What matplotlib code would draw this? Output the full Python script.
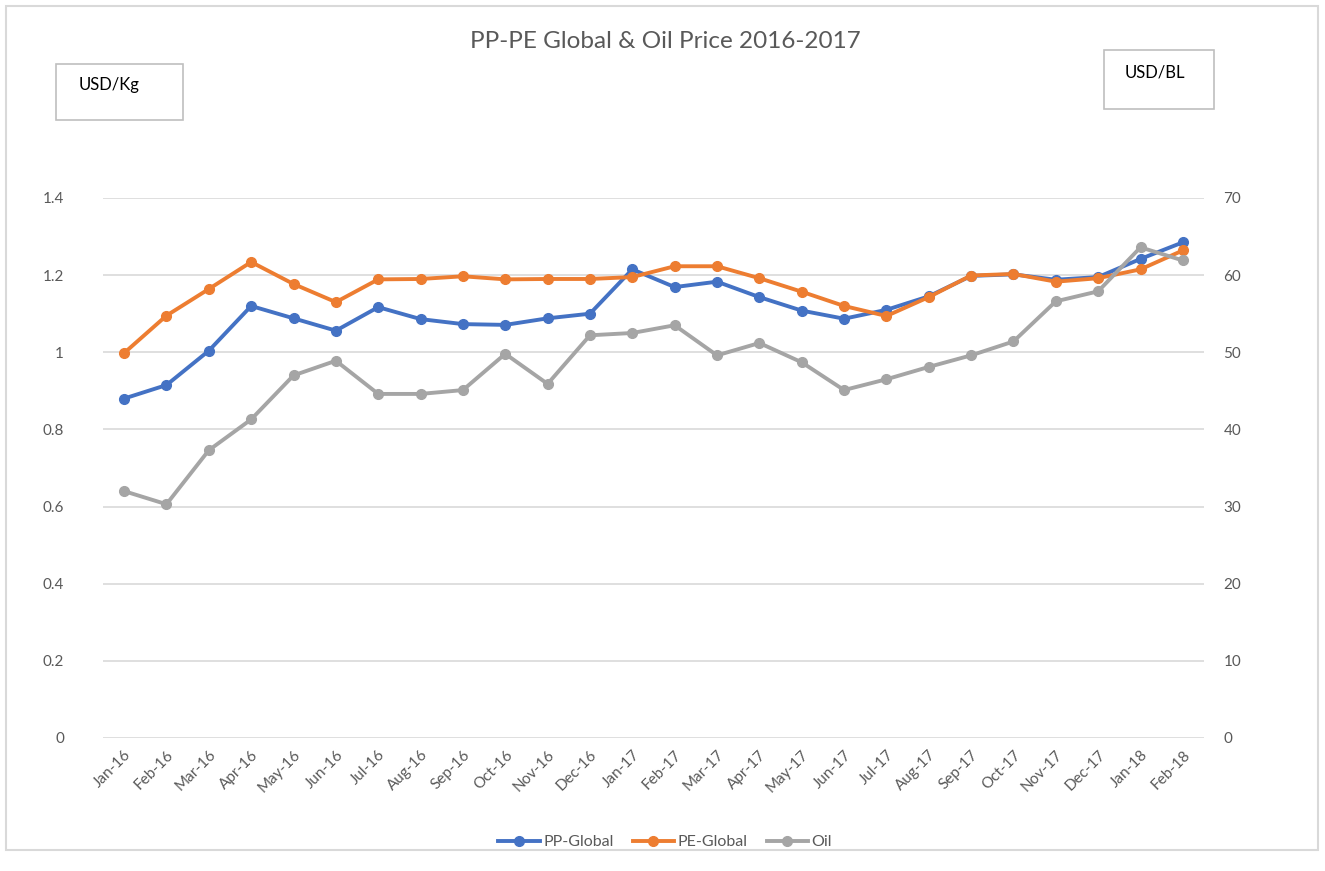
import matplotlib.pyplot as plt
from matplotlib.patches import Rectangle

plt.rcParams['font.family'] = ['Lato', 'DejaVu Sans']

months = ['Jan-16', 'Feb-16', 'Mar-16', 'Apr-16', 'May-16', 'Jun-16', 'Jul-16', 'Aug-16',
          'Sep-16', 'Oct-16', 'Nov-16', 'Dec-16', 'Jan-17', 'Feb-17', 'Mar-17', 'Apr-17',
          'May-17', 'Jun-17', 'Jul-17', 'Aug-17', 'Sep-17', 'Oct-17', 'Nov-17', 'Dec-17',
          'Jan-18', 'Feb-18']

pp_global = [0.88, 0.915, 1.004, 1.12, 1.088, 1.056, 1.117, 1.086, 1.073, 1.071, 1.088, 1.10,
             1.215, 1.169, 1.183, 1.143, 1.108, 1.087, 1.11, 1.145, 1.198, 1.202, 1.188, 1.195,
             1.242, 1.285]
pe_global = [0.998, 1.095, 1.164, 1.234, 1.177, 1.13, 1.189, 1.19, 1.197, 1.189, 1.19, 1.19,
             1.195, 1.223, 1.223, 1.192, 1.157, 1.12, 1.094, 1.143, 1.199, 1.203, 1.183, 1.192,
             1.215, 1.264]
oil = [32.0, 30.3, 37.3, 41.3, 47.0, 48.9, 44.6, 44.6, 45.1, 49.8, 45.9, 52.2,
       52.5, 53.5, 49.6, 51.2, 48.7, 45.1, 46.5, 48.1, 49.6, 51.4, 56.6, 57.9,
       63.6, 61.9]

blue = '#4472C4'
orange = '#ED7D31'
grey = '#A5A5A5'
txt = '#595959'

fig = plt.figure(figsize=(13.25, 8.71), dpi=100)
ax = fig.add_axes([0.0777, 0.1527, 0.831, 0.620])
ax2 = ax.twinx()

x = list(range(len(months)))
l1, = ax.plot(x, pp_global, color=blue, lw=2.8, marker='o', ms=7, label='PP-Global', zorder=3)
l2, = ax.plot(x, pe_global, color=orange, lw=2.8, marker='o', ms=7, label='PE-Global', zorder=3)
l3, = ax2.plot(x, oil, color=grey, lw=2.8, marker='o', ms=7, label='Oil')

ax.set_ylim(0, 1.4)
ax.set_yticks([0, 0.2, 0.4, 0.6, 0.8, 1, 1.2, 1.4])
ax.set_yticklabels(['0', '0.2', '0.4', '0.6', '0.8', '1', '1.2', '1.4'])
ax2.set_ylim(0, 70)
ax2.set_yticks(range(0, 71, 10))
ax.set_xlim(-0.5, len(months) - 0.5)
ax.set_xticks(x)
ax.set_xticklabels(months, rotation=45, ha='right', rotation_mode='anchor')

ax.yaxis.grid(True, color='#D9D9D9', lw=1.2)
ax.set_axisbelow(True)
for a in (ax, ax2):
    for s in a.spines.values():
        s.set_visible(False)
    a.tick_params(length=0, colors=txt, labelsize=11)
ax.tick_params(axis='y', pad=28)
ax2.tick_params(axis='y', pad=14)
ax.tick_params(axis='x', pad=7)

fig.text(0.502, 0.952, 'PP-PE Global & Oil Price 2016-2017', ha='center', va='center',
         fontsize=17.5, color=txt)

fig.legend(handles=[l1, l2, l3], loc='center', bbox_to_anchor=(0.502, 0.033), ncol=3,
           frameon=False, fontsize=11.5, labelcolor=txt, handlelength=2.6, columnspacing=1.2,
           handletextpad=0.2)

W, H = 1325, 871
def box(x0, y0, x1, y1, label, tx, ty):
    fig.patches.append(Rectangle((x0 / W, 1 - y1 / H), (x1 - x0) / W, (y1 - y0) / H,
                                 transform=fig.transFigure, fill=False, ec='#BFBFBF', lw=1.2))
    fig.text(tx / W, 1 - ty / H, label, ha='left', va='center', fontsize=12, color='black')

box(56, 64, 183, 120, 'USD/Kg', 79, 85)
box(1104, 50, 1214, 109, 'USD/BL', 1125, 73)

# outer frame
fig.patches.append(Rectangle((6 / W, 1 - 850 / H), 1312 / W, 844 / H,
                             transform=fig.transFigure, fill=False, ec='#D9D9D9', lw=1.5))

fig.savefig('out.png', dpi=100)
